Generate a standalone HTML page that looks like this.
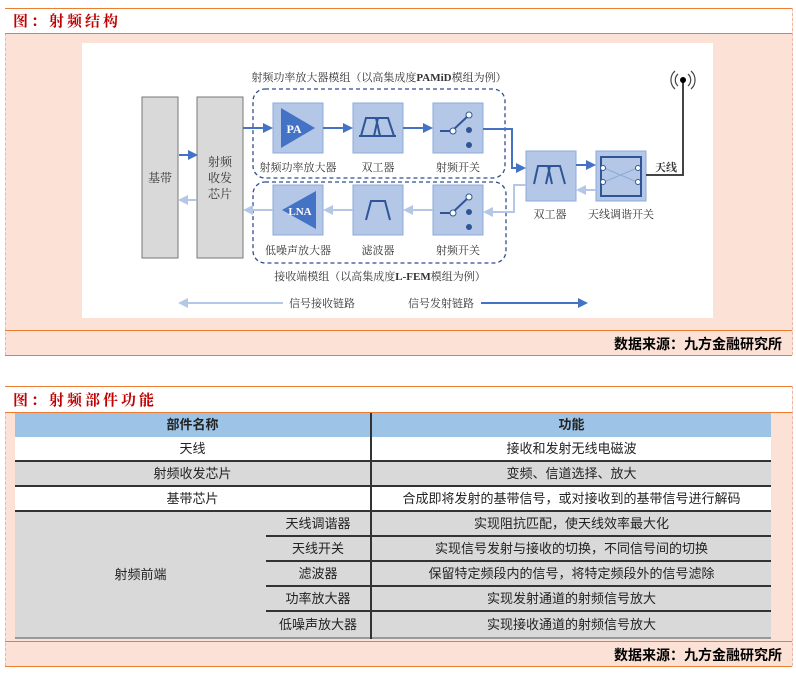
<!DOCTYPE html>
<html><head><meta charset="utf-8"><style>
body{margin:0;width:796px;height:673px;background:#fff;position:relative;font-family:"Liberation Sans","Noto Sans CJK SC",sans-serif;overflow:hidden}
.abs{position:absolute}
.title{color:#c00000;font-weight:bold;font-size:15px;letter-spacing:3px;font-family:"Liberation Serif","Noto Serif CJK SC",serif}
table{border-collapse:collapse;font-size:13px;color:#222;table-layout:fixed}
td{text-align:center;padding:0;height:23px;line-height:23px;overflow:hidden;white-space:nowrap}
</style></head><body>
<div class="abs" style="left:5px;top:8px;width:786px;height:347px;border-left:1px dashed #e8b8a0;border-right:1px dashed #e8b8a0;background:#fce2d6"></div>
<div class="abs" style="left:5px;top:8px;width:787px;height:24px;background:#fff;border-top:1.5px solid #ed7d31;border-bottom:1.5px solid #ed7d31"></div>
<div class="abs title" style="left:13px;top:10px">图：射频结构</div>
<div class="abs" style="left:5px;top:330px;width:787px;height:24px;border-top:1.5px solid #ed7d31;border-bottom:1.5px solid #ed7d31"></div>
<div class="abs" style="right:14px;top:334px;font-weight:bold;font-size:14px">数据来源：九方金融研究所</div>
<svg class="abs" style="left:0;top:0" width="796" height="360">
<defs>
<marker id="a" markerWidth="5" markerHeight="5" refX="4" refY="2.5" orient="auto"><path d="M0,0L5,2.5L0,5z" fill="#4472c4"/></marker>
<marker id="b" markerWidth="5" markerHeight="5" refX="4" refY="2.5" orient="auto"><path d="M0,0L5,2.5L0,5z" fill="#b4c7e7"/></marker>
</defs>
<rect x="82" y="43" width="631" height="275" fill="#fff"/>
<g font-family="Liberation Serif,Noto Serif CJK SC,serif" font-size="11" fill="#333">
<rect x="142" y="97" width="36" height="161" fill="#d9d9d9" stroke="#777"/>
<text x="160" y="182" text-anchor="middle" font-size="12">基带</text>
<rect x="197" y="97" width="46" height="161" fill="#d9d9d9" stroke="#777"/>
<text x="220" y="166" text-anchor="middle" font-size="12">射频</text>
<text x="220" y="182" text-anchor="middle" font-size="12">收发</text>
<text x="220" y="198" text-anchor="middle" font-size="12">芯片</text>
<line x1="179" y1="155" x2="196" y2="155" stroke="#4472c4" stroke-width="2" marker-end="url(#a)"/>
<line x1="196" y1="200" x2="180" y2="200" stroke="#b4c7e7" stroke-width="2" marker-end="url(#b)"/>
<rect x="253" y="89" width="252" height="89" rx="12" fill="none" stroke="#2f4f8f" stroke-width="1.3" stroke-dasharray="4,3"/>
<rect x="253" y="182" width="253" height="81" rx="12" fill="none" stroke="#2f4f8f" stroke-width="1.3" stroke-dasharray="4,3"/>
<text x="379" y="81" text-anchor="middle">射频功率放大器模组（以高集成度<tspan font-weight="bold">PAMiD</tspan>模组为例）</text>
<text x="380" y="280" text-anchor="middle">接收端模组（以高集成度<tspan font-weight="bold">L-FEM</tspan>模组为例）</text>
<g fill="#b4c7e7" stroke="#8eaadb">
<rect x="273" y="103" width="50" height="50"/><rect x="353" y="103" width="50" height="50"/><rect x="433" y="103" width="50" height="50"/>
<rect x="273" y="185" width="50" height="50"/><rect x="353" y="185" width="50" height="50"/><rect x="433" y="185" width="50" height="50"/>
<rect x="526" y="151" width="50" height="50"/><rect x="596" y="151" width="50" height="50"/>
</g>
<path d="M281,108L315,128L281,148z" fill="#4472c4"/>
<text x="294" y="133" fill="#fff" font-weight="bold" font-size="12" text-anchor="middle">PA</text>
<path d="M316,191L282,210L316,229z" fill="#4472c4"/>
<text x="300" y="215" fill="#fff" font-weight="bold" font-size="11" text-anchor="middle">LNA</text>
<path d="M361,136L366,118L376,118L380,136M374,136L378,118L388,118L394,136M359,136H396" fill="none" stroke="#2f5597" stroke-width="2"/>
<path d="M366,220L371,201L385,201L390,220" fill="none" stroke="#2f5597" stroke-width="2"/>
<path d="M534,184L538,166L548,166L552,184M546,184L550,166L560,166L565,184" fill="none" stroke="#2f5597" stroke-width="2"/>
<g stroke="#2f5597" stroke-width="2" fill="#fff">
<line x1="440" y1="131" x2="452" y2="131"/><line x1="452" y1="131" x2="469" y2="115"/>
<circle cx="453" cy="131" r="3" stroke-width="1"/><circle cx="469" cy="115" r="3" stroke-width="1"/>
<line x1="440" y1="213" x2="452" y2="213"/><line x1="452" y1="213" x2="469" y2="197"/>
<circle cx="453" cy="213" r="3" stroke-width="1"/><circle cx="469" cy="197" r="3" stroke-width="1"/>
</g>
<g fill="#2f5597"><circle cx="469" cy="130" r="3"/><circle cx="469" cy="145" r="3"/><circle cx="469" cy="212" r="3"/><circle cx="469" cy="227" r="3"/></g>
<rect x="601" y="157" width="40" height="39" fill="none" stroke="#2f5597" stroke-width="2"/>
<path d="M604,168L637,182M604,182L637,168" stroke="#8eaadb" stroke-width="1"/>
<g fill="#fff" stroke="#2f5597"><circle cx="603" cy="168" r="2.5"/><circle cx="603" cy="182" r="2.5"/><circle cx="638" cy="168" r="2.5"/><circle cx="638" cy="182" r="2.5"/></g>
<text x="298" y="171" text-anchor="middle">射频功率放大器</text>
<text x="378" y="171" text-anchor="middle">双工器</text>
<text x="458" y="171" text-anchor="middle">射频开关</text>
<text x="298" y="254" text-anchor="middle">低噪声放大器</text>
<text x="378" y="254" text-anchor="middle">滤波器</text>
<text x="458" y="254" text-anchor="middle">射频开关</text>
<text x="550" y="218" text-anchor="middle">双工器</text>
<text x="621" y="218" text-anchor="middle">天线调谐开关</text>
<text x="666" y="171" text-anchor="middle" font-weight="bold">天线</text>
<g stroke-width="2" fill="none">
<line x1="243" y1="128" x2="271" y2="128" stroke="#4472c4" marker-end="url(#a)"/>
<line x1="323" y1="128" x2="351" y2="128" stroke="#4472c4" marker-end="url(#a)"/>
<line x1="403" y1="128" x2="431" y2="128" stroke="#4472c4" marker-end="url(#a)"/>
<path d="M483,129H512V168H524" stroke="#4472c4" marker-end="url(#a)"/>
<line x1="576" y1="165" x2="594" y2="165" stroke="#4472c4" marker-end="url(#a)"/>
<line x1="596" y1="190" x2="578" y2="190" stroke="#b4c7e7" marker-end="url(#b)"/>
<path d="M526,185H514V212H485" stroke="#b4c7e7" marker-end="url(#b)"/>
<line x1="433" y1="210" x2="405" y2="210" stroke="#b4c7e7" marker-end="url(#b)"/>
<line x1="353" y1="210" x2="325" y2="210" stroke="#b4c7e7" marker-end="url(#b)"/>
<line x1="273" y1="210" x2="245" y2="210" stroke="#b4c7e7" marker-end="url(#b)"/>
<path d="M646,175H683V82" stroke="#444"/>
<line x1="283" y1="303" x2="180" y2="303" stroke="#b4c7e7" marker-end="url(#b)"/>
<line x1="481" y1="303" x2="586" y2="303" stroke="#4472c4" marker-end="url(#a)"/>
</g>
<circle cx="683" cy="80" r="3" fill="#000"/>
<path d="M678,74A8,8 0 0 0 678,86M675,71A12,12 0 0 0 675,89M688,74A8,8 0 0 1 688,86M691,71A12,12 0 0 1 691,89" fill="none" stroke="#444" stroke-width="1.2"/>
<text x="322" y="307" text-anchor="middle">信号接收链路</text>
<text x="441" y="307" text-anchor="middle">信号发射链路</text>
</g>
</svg>
<div class="abs" style="left:5px;top:386px;width:786px;height:280px;border-left:1px dashed #e8b8a0;border-right:1px dashed #e8b8a0;background:#fce2d6"></div>
<div class="abs" style="left:5px;top:386px;width:787px;height:25px;background:#fff;border-top:1.5px solid #ed7d31;border-bottom:1.5px solid #ed7d31"></div>
<div class="abs title" style="left:13px;top:389px">图：射频部件功能</div>
<table class="abs" style="left:15px;top:413px;width:756px">
<colgroup><col style="width:251px"><col style="width:105px"><col></colgroup>
<tr style="background:#9dc3e6;font-weight:bold"><td colspan="2" style="height:24px;line-height:24px;border-right:2px solid #333">部件名称</td><td style="height:24px;line-height:24px">功能</td></tr>
<tr style="background:#fff"><td colspan="2" style="border-right:2px solid #333">天线</td><td>接收和发射无线电磁波</td></tr>
<tr style="background:#d9d9d9;border-top:2px solid #333"><td colspan="2" style="border-right:2px solid #333">射频收发芯片</td><td>变频、信道选择、放大</td></tr>
<tr style="background:#fff;border-top:2px solid #333"><td colspan="2" style="border-right:2px solid #333">基带芯片</td><td>合成即将发射的基带信号，或对接收到的基带信号进行解码</td></tr>
<tr style="background:#d9d9d9;border-top:2px solid #333"><td rowspan="5">射频前端</td><td style="border-right:2px solid #333">天线调谐器</td><td>实现阻抗匹配，使天线效率最大化</td></tr>
<tr style="background:#d9d9d9;border-top:2px solid #333"><td style="border-right:2px solid #333">天线开关</td><td>实现信号发射与接收的切换，不同信号间的切换</td></tr>
<tr style="background:#d9d9d9;border-top:2px solid #333"><td style="border-right:2px solid #333">滤波器</td><td>保留特定频段内的信号，将特定频段外的信号滤除</td></tr>
<tr style="background:#d9d9d9;border-top:2px solid #333"><td style="border-right:2px solid #333">功率放大器</td><td>实现发射通道的射频信号放大</td></tr>
<tr style="background:#d9d9d9;border-top:2px solid #333;border-bottom:2px solid #999"><td style="border-right:2px solid #333;height:25px;line-height:25px">低噪声放大器</td><td style="height:25px;line-height:25px">实现接收通道的射频信号放大</td></tr>
</table>
<div class="abs" style="left:5px;top:641px;width:787px;height:24px;border-top:1.5px solid #ed7d31;border-bottom:1.5px solid #ed7d31"></div>
<div class="abs" style="right:14px;top:645px;font-weight:bold;font-size:14px">数据来源：九方金融研究所</div>
</body></html>
